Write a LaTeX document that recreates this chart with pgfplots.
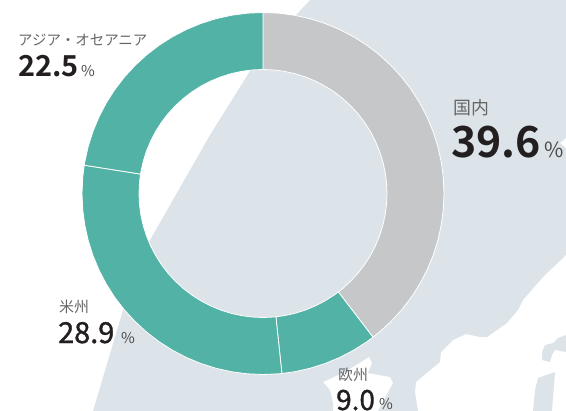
\documentclass[border=0pt]{standalone}
\usepackage{pgfplots}
\pgfplotsset{compat=1.18}
\usepackage{fontspec}
\setmainfont{Noto Sans CJK JP}
\newfontfamily\numb{Noto Sans CJK JP Bold}
\newfontfamily\med[FakeBold=1.2]{Noto Sans CJK JP}
\definecolor{landc}{HTML}{DDE4E9}
\definecolor{teal}{HTML}{52B2A6}
\definecolor{grayc}{HTML}{C6C7C9}
\definecolor{labc}{HTML}{666666}
\definecolor{pctc}{HTML}{4A4A4A}
\definecolor{numc}{HTML}{231F20}
\pgfplotsset{base/.style={width=566bp,height=411bp,scale only axis,hide axis,clip=true}}
\begin{document}
\begin{tikzpicture}
\path[use as bounding box] (0,0) rectangle (566bp,411bp);
\clip (0,0) rectangle (566bp,411bp);
% background map, in pixel coordinates
\begin{axis}[base,at={(0,0)},anchor=south west,xmin=0,xmax=566,ymin=0,ymax=411,y dir=reverse]
\addplot[fill=landc,draw=none] coordinates {
(310,0)(296,15)(250,71)(210,135)(170,205)(150,240)(123,310)(93,411)
(333,411)(333,403)(330,390)(323,382)(345,372)(369,357)(372,363)(368,373)(390,377)(393,383)(378,411)
(418,411)(415,392)(416,382)(440,362)(441,352)(453,340)(466,334)(480,337)(487,337)(507,323)(518,310)(523,300)(543,277)(566,255)
(566,148)(560,143)(566,138)(566,0)} -- cycle;
\addplot[fill=landc,draw=none] coordinates {(566,335)(558,338)(553,343)(545,345)(542,352)(542,360)(550,362)(552,355)(555,350)(566,352)} -- cycle;
\addplot[fill=landc,draw=none] coordinates {(555,372)(538,378)(535,390)(533,411)(552,411)} -- cycle;
\end{axis}
% ring, centred on the origin
\begin{axis}[base,at={(0,0)},anchor=south west,xmin=-263,xmax=303,ymin=-217.5,ymax=193.5]
\pgfplotsset{ring/.style={draw=white,line width=0.8bp,line join=round}}
% domestic 39.6
\addplot[ring,fill=grayc] coordinates {
(0,181)(15.78,180.31)(31.43,178.25)(46.85,174.83)(61.91,170.08)(76.49,164.04)(90.5,156.75)(103.82,148.27)(116.34,138.65)(127.99,127.99)(138.65,116.34)(148.27,103.82)(156.75,90.5)(164.04,76.49)(170.08,61.91)(174.83,46.85)(178.25,31.43)(180.31,15.78)(181,0)
(180.31,-15.78)(178.25,-31.43)(174.83,-46.85)(170.08,-61.91)(164.04,-76.49)(156.75,-90.5)(148.27,-103.82)(138.65,-116.34)(127.99,-127.99)(116.34,-138.65)(110,-143.7)
(75.4,-98.5)(79.71,-94.99)(87.68,-87.68)(94.99,-79.71)(101.57,-71.12)(107.39,-62)(112.38,-52.4)(116.52,-42.41)(119.78,-32.09)(122.12,-21.53)(123.53,-10.81)(124,0)
(123.53,10.81)(122.12,21.53)(119.78,32.09)(116.52,42.41)(112.38,52.4)(107.39,62)(101.57,71.12)(94.99,79.71)(87.68,87.68)(79.71,94.99)(71.12,101.57)(62,107.39)(52.4,112.38)(42.41,116.52)(32.09,119.78)(21.53,122.12)(10.81,123.53)(0,124)} -- cycle;
% Europe 9.0
\addplot[ring,fill=teal] coordinates {
(110,-143.7)(103.82,-148.27)(90.5,-156.75)(76.49,-164.04)(61.91,-170.08)(46.85,-174.83)(31.43,-178.25)(18.9,-180)
(12.9,-123.3)(21.53,-122.12)(32.09,-119.78)(42.41,-116.52)(52.4,-112.38)(62,-107.39)(71.12,-101.57)(75.4,-98.5)} -- cycle;
% Americas 28.9
\addplot[ring,fill=teal] coordinates {
(18.9,-180)(15.78,-180.31)(0,-181)(-15.78,-180.31)(-31.43,-178.25)(-46.85,-174.83)(-61.91,-170.08)(-76.49,-164.04)(-90.5,-156.75)(-103.82,-148.27)(-116.34,-138.65)(-127.99,-127.99)(-138.65,-116.34)(-148.27,-103.82)(-156.75,-90.5)(-164.04,-76.49)(-170.08,-61.91)(-174.83,-46.85)(-178.25,-31.43)(-180.31,-15.78)(-181,0)(-180.31,15.78)(-178.77,28.3)
(-122.47,19.4)(-123.53,10.81)(-124,0)(-123.53,-10.81)(-122.12,-21.53)(-119.78,-32.09)(-116.52,-42.41)(-112.38,-52.4)(-107.39,-62)(-101.57,-71.12)(-94.99,-79.71)(-87.68,-87.68)(-79.71,-94.99)(-71.12,-101.57)(-62,-107.39)(-52.4,-112.38)(-42.41,-116.52)(-32.09,-119.78)(-21.53,-122.12)(-10.81,-123.53)(0,-124)(10.81,-123.53)(12.9,-123.3)} -- cycle;
% Asia-Oceania 22.5
\addplot[ring,fill=teal] coordinates {
(-178.77,28.3)(-178.25,31.43)(-174.83,46.85)(-170.08,61.91)(-164.04,76.49)(-156.75,90.5)(-148.27,103.82)(-138.65,116.34)(-127.99,127.99)(-116.34,138.65)(-103.82,148.27)(-90.5,156.75)(-76.49,164.04)(-61.91,170.08)(-46.85,174.83)(-31.43,178.25)(-15.78,180.31)(0,181)
(0,124)(-10.81,123.53)(-21.53,122.12)(-32.09,119.78)(-42.41,116.52)(-52.4,112.38)(-62,107.39)(-71.12,101.57)(-79.71,94.99)(-87.68,87.68)(-94.99,79.71)(-101.57,71.12)(-107.39,62)(-112.38,52.4)(-116.52,42.41)(-119.78,32.09)(-122.12,21.53)(-122.47,19.4)} -- cycle;
\end{axis}
% labels, in pixel coordinates
\begin{axis}[base,at={(0,0)},anchor=south west,xmin=0,xmax=566,ymin=0,ymax=411,y dir=reverse,clip=false]
\def\lab#1#2#3#4{\node[anchor=base west,inner sep=0,text=labc,font=\fontsize{#4}{#4}\selectfont] at (axis cs:#1,#2) {#3};}
\lab{453}{114}{国内}{18}
\lab{18}{45}{アジア・オセアニア}{14.5}
\lab{59}{312}{米州}{15}
\lab{338}{380}{欧州}{15}
\node[anchor=base west,inner sep=0,text=numc,font=\fontsize{43}{43}\selectfont\numb] at (axis cs:451,157) {39.6};
\node[anchor=base west,inner sep=0,text=numc,font=\fontsize{29}{29}\selectfont\numb] at (axis cs:18,76) {22.5};
\node[anchor=base west,inner sep=0,text=numc,font=\fontsize{29}{29}\selectfont\med] at (axis cs:58,343) {28.9};
\node[anchor=base west,inner sep=0,text=numc,font=\fontsize{28}{28}\selectfont\med] at (axis cs:336,410) {9.0};
\node[anchor=base west,inner sep=0,text=pctc,font=\fontsize{21}{21}\selectfont] at (axis cs:544,157) {\%};
\node[anchor=base west,inner sep=0,text=pctc,font=\fontsize{15}{15}\selectfont] at (axis cs:81,76) {\%};
\node[anchor=base west,inner sep=0,text=pctc,font=\fontsize{15}{15}\selectfont] at (axis cs:121,343) {\%};
\node[anchor=base west,inner sep=0,text=pctc,font=\fontsize{15}{15}\selectfont] at (axis cs:379,409) {\%};
\end{axis}
\end{tikzpicture}
\end{document}
